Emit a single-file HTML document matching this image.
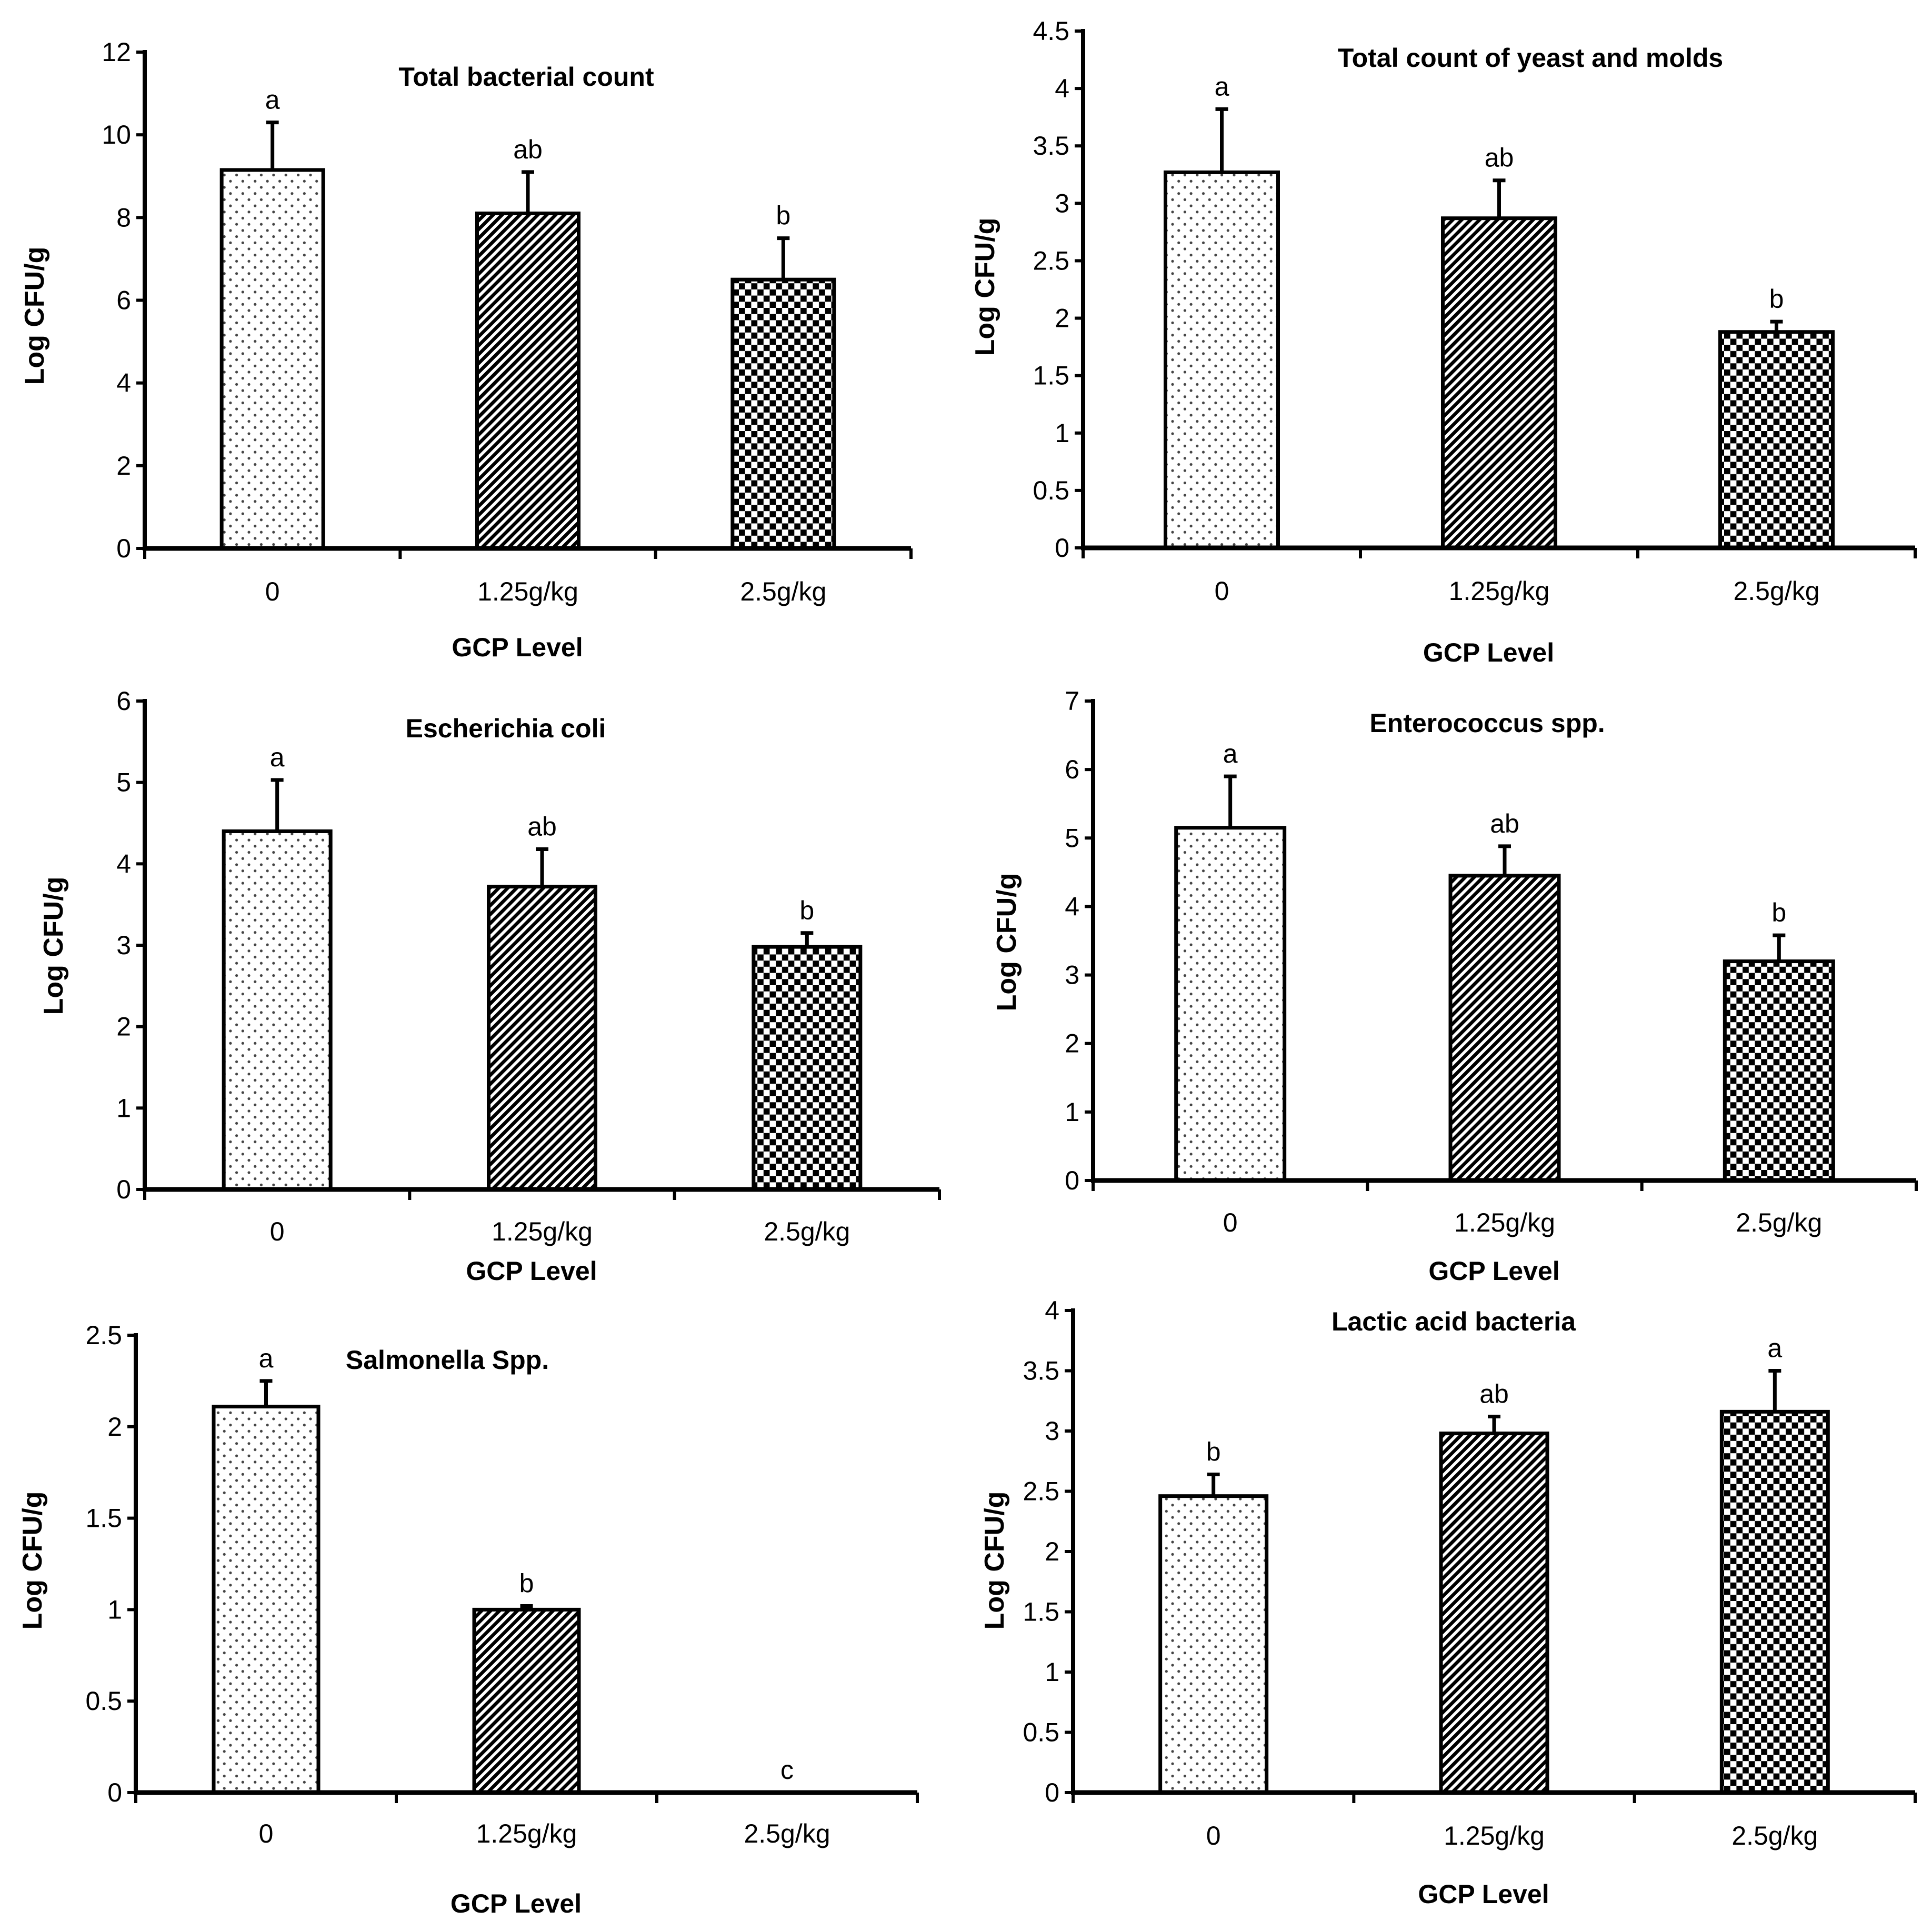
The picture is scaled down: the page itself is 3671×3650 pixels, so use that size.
<!DOCTYPE html>
<html><head><meta charset="utf-8">
<style>
html,body{margin:0;padding:0;background:#fff;}
svg{display:block;}
text{font-family:"Liberation Sans Narrow","Liberation Sans",sans-serif;fill:#000;}
</style></head>
<body>
<svg id="fig" width="3671" height="3650" viewBox="0 0 3671 3650" xmlns="http://www.w3.org/2000/svg">
<defs>
<pattern id="pDots" patternUnits="userSpaceOnUse" width="23.4" height="23.4">
<rect width="23.4" height="23.4" fill="#fff"/>
<circle cx="5" cy="5" r="2.6" fill="#444"/>
<circle cx="16.7" cy="16.7" r="2.6" fill="#444"/>
</pattern>
<pattern id="pDiag" patternUnits="userSpaceOnUse" width="12" height="12" patternTransform="rotate(45)">
<rect width="12" height="12" fill="#fff"/>
<rect width="6.5" height="12" fill="#000"/>
</pattern>
<pattern id="pCheck" patternUnits="userSpaceOnUse" width="23.4" height="23.4">
<rect width="23.4" height="23.4" fill="#fff"/>
<rect width="11.7" height="11.7" fill="#000"/>
<rect x="11.7" y="11.7" width="11.7" height="11.7" fill="#000"/>
</pattern>
</defs>
</svg>
<script>
const categories = ["0", "1.25g/kg", "2.5g/kg"];
const titles = ["Total bacterial count", "Total count of yeast and molds", "Escherichia coli", "Enterococcus spp.", "Salmonella Spp.", "Lactic acid bacteria"];
const meansTBC = [9.15, 8.1, 6.5];
const errTopTBC = [10.3, 9.1, 7.5];
const meansYM = [3.27, 2.87, 1.88];
const errTopYM = [3.82, 3.2, 1.97];
const meansEC = [4.4, 3.72, 2.98];
const errTopEC = [5.03, 4.18, 3.15];
const meansENT = [5.15, 4.45, 3.2];
const errTopENT = [5.9, 4.88, 3.58];
const meansSAL = [2.11, 1.0, 0];
const errTopSAL = [2.25, 1.02, 0];
const meansLAB = [2.46, 2.98, 3.16];
const errTopLAB = [2.64, 3.12, 3.5];
const lettersTBC = ["a", "ab", "b"];
const lettersYM = ["a", "ab", "b"];
const lettersEC = ["a", "ab", "b"];
const lettersENT = ["a", "ab", "b"];
const lettersSAL = ["a", "b", "c"];
const lettersLAB = ["b", "ab", "a"];
const ticksTBC = [0, 2, 4, 6, 8, 10, 12];
const ticksYM = [0, 0.5, 1, 1.5, 2, 2.5, 3, 3.5, 4, 4.5];
const ticksEC = [0, 1, 2, 3, 4, 5, 6];
const ticksENT = [0, 1, 2, 3, 4, 5, 6, 7];
const ticksSAL = [0, 0.5, 1, 1.5, 2, 2.5];
const ticksLAB = [0, 0.5, 1, 1.5, 2, 2.5, 3, 3.5, 4];

const panels = [
 {key:"tbc", title:titles[0], means:meansTBC, err:errTopTBC, letters:lettersTBC, ticks:ticksTBC,
  x0:275, x1:1731, yTop:99, y0:1042, barW:193, catY:1124, xtY:1230, tX:1000, tY:146, ytX:66, ytY:600},
 {key:"ym", title:titles[1], means:meansYM, err:errTopYM, letters:lettersYM, ticks:ticksYM,
  x0:2058, x1:3639, yTop:59, y0:1041, barW:214, catY:1123, xtY:1240, tX:2908, tY:110, ytX:1872, ytY:545},
 {key:"ec", title:titles[2], means:meansEC, err:errTopEC, letters:lettersEC, ticks:ticksEC,
  x0:275, x1:1785, yTop:1332, y0:2260, barW:203, catY:2340, xtY:2415, tX:961, tY:1384, ytX:102, ytY:1797},
 {key:"ent", title:titles[3], means:meansENT, err:errTopENT, letters:lettersENT, ticks:ticksENT,
  x0:2077, x1:3641, yTop:1332, y0:2243, barW:206, catY:2323, xtY:2415, tX:2826, tY:1374, ytX:1913, ytY:1790},
 {key:"sal", title:titles[4], means:meansSAL, err:errTopSAL, letters:lettersSAL, ticks:ticksSAL,
  x0:258, x1:1743, yTop:2537, y0:3406, barW:199, catY:3484, xtY:3617, tX:850, tY:2584, ytX:62, ytY:2965},
 {key:"lab", title:titles[5], means:meansLAB, err:errTopLAB, letters:lettersLAB, ticks:ticksLAB,
  x0:2039, x1:3639, yTop:2490, y0:3406, barW:202, catY:3488, xtY:3599, tX:2762, tY:2511, ytX:1890, ytY:2965}
];
const fills = ["url(#pDots)", "url(#pDiag)", "url(#pCheck)"];
const NS = "http://www.w3.org/2000/svg";
const svg = document.getElementById("fig");
function mk(tag, attrs, parent){ const e=document.createElementNS(NS,tag); for(const k in attrs) e.setAttribute(k,attrs[k]); (parent||svg).appendChild(e); return e; }

panels.forEach(p=>{
  const g = mk("g",{});
  
  
  const maxV = p.ticks[p.ticks.length-1];
  const yS = v => p.y0 - (v/maxV)*(p.y0-p.yTop);
  const catW = (p.x1-p.x0)/categories.length;
  const xS = i => p.x0 + catW*(i+0.5);
  p.ticks.forEach(t=>{
    const y=yS(t);
    const tl = mk("line",{x1:p.x0-16,x2:p.x0,y1:y,y2:y,stroke:"#000","stroke-width":6},g);
    
    
    const tx = mk("text",{x:p.x0-26,y:y+17,"text-anchor":"end","font-size":50},g);
    tx.textContent = String(t);
    
    
  });
  categories.forEach((c,i)=>{
    const cx=xS(i);
    const v=p.means[i];
    if(v>0){
      const yt=yS(p.err[i]);
      const el = mk("line",{x1:cx,x2:cx,y1:yt,y2:yS(v),stroke:"#000","stroke-width":7},g);
      
      
      const ec = mk("line",{x1:cx-12,x2:cx+12,y1:yt,y2:yt,stroke:"#000","stroke-width":7},g);
      
      
      const b = mk("rect",{x:cx-p.barW/2,y:yS(v),width:p.barW,height:p.y0-yS(v),fill:fills[i],stroke:"#000","stroke-width":7},g);
      
      
    }
    const lt = mk("text",{x:cx,y:yS(p.err[i])-26,"text-anchor":"middle","font-size":50},g);
    lt.textContent = p.letters[i];
    
    
    const cl = mk("text",{x:cx,y:p.catY+17,"text-anchor":"middle","font-size":50},g);
    cl.textContent = c;
    
    
  });
  for(let k=0;k<=categories.length;k++){
    const x=p.x0+catW*k;
    const xt = mk("line",{x1:x,x2:x,y1:p.y0,y2:p.y0+20,stroke:"#000","stroke-width":6},g);
    
    
  }
  const ya = mk("line",{x1:p.x0,x2:p.x0,y1:p.yTop-4,y2:p.y0+4,stroke:"#000","stroke-width":8},g);
  
  
  const xa = mk("line",{x1:p.x0-4,x2:p.x1,y1:p.y0,y2:p.y0,stroke:"#000","stroke-width":9},g);
  
  
  const ti = mk("text",{x:p.tX,y:p.tY+17,"text-anchor":"middle","font-size":50,"font-weight":"bold"},g);
  ti.textContent = p.title;
  
  
  const xtt = mk("text",{x:(p.x0+p.x1)/2-20,y:p.xtY+17,"text-anchor":"middle","font-size":50,"font-weight":"bold"},g);
  xtt.textContent = "GCP Level";
  
  
  const ytt = mk("text",{x:0,y:0,"text-anchor":"middle","font-size":52,"font-weight":"bold",transform:`translate(${p.ytX+17},${p.ytY}) rotate(-90)`},g);
  ytt.textContent = "Log CFU/g";
  
  
});
</script>
</body></html>
